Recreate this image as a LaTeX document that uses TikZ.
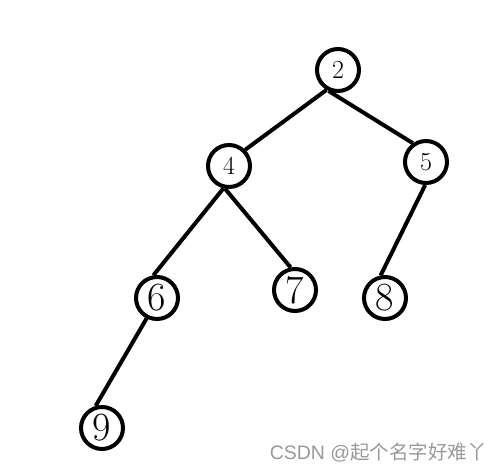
\documentclass[tikz,border=0pt]{standalone}
\usepackage{fontspec}
\newfontfamily\cjk{Noto Sans CJK SC}
\newfontfamily\wmfont{Liberation Sans}
\tikzstyle{vertex}=[draw,line width=4pt,circle,minimum size=42pt,inner sep=0pt,font=\fontsize{26}{28}\selectfont]
\tikzstyle{bigvertex}=[vertex,font=\fontsize{40}{42}\selectfont]
\tikzstyle{edge} = [draw,line width=4pt,-]
\tikzstyle{wmark} = [text=black!40,font=\fontsize{19.5}{21}\selectfont]
\newcommand{\tscale}{1pt}

\begin{document}
\begin{tikzpicture}[x=\tscale, y=-\tscale]
    \useasboundingbox (0,0) rectangle (496,472);
    % First we draw the vertices
    \foreach \pos/\name/\kind in {{(338,70)/2/vertex}, {(229,166)/4/vertex}, {(426,162)/5/vertex},
        {(157,298)/6/bigvertex}, {(295,290)/7/bigvertex}, {(385,298)/8/bigvertex}, {(102,428)/9/bigvertex}}
        \node[\kind] (n\name) at \pos {\name};
    % Connect vertices with edges, from the parent's lower rim to the child's upper rim
    \foreach \source/\sa/\dest/\da in {2/240/4/45, 2/246/5/125, 4/256/6/99, 4/260/7/101, 5/268/8/101, 6/243/9/106}
        \path[edge] (n\source.\sa) -- (n\dest.\da);
    \node[wmark, anchor=east, inner sep=0pt] (wm) at (487,453) {\wmfont CSDN @\cjk 起个名字好难丫};
\end{tikzpicture}
\end{document}
